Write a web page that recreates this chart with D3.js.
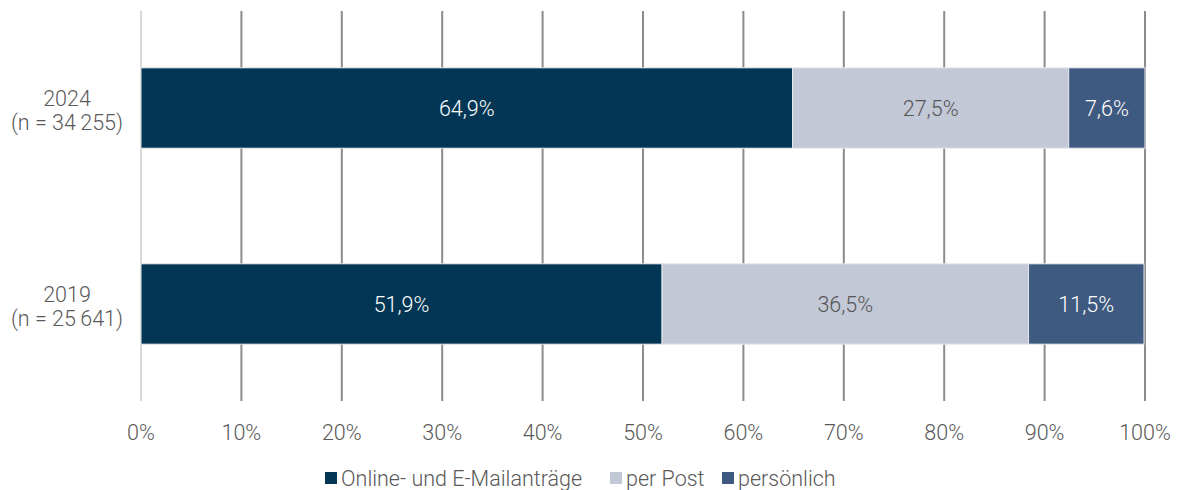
<!DOCTYPE html>
<html>
<head>
<meta charset="utf-8">
<script src="https://cdn.jsdelivr.net/npm/d3@7"></script>
<style>
  body { margin: 0; background: #fff; }
  text { font-family: Roboto, "Liberation Sans", sans-serif; font-weight: 300; }
</style>
</head>
<body>
<div id="chart"></div>
<script>
var years = ["2024", "2019"];
var sampleLabels = ["(n = 34\u2009255)", "(n = 25\u2009641)"];
var seriesNames = ["Online- und E-Mailanträge", "per Post", "persönlich"];
var online = [64.9, 51.9];
var post = [27.5, 36.5];
var personal = [7.6, 11.5];
var ticks = [0, 10, 20, 30, 40, 50, 60, 70, 80, 90, 100];
var colors = ["#023654", "#c3c8d6", "#3f5a80"];
var labelColors = ["#ffffff", "#555555", "#ffffff"];

var width = 1181, height = 490;
var fs = 21.5;

var svg = d3.select("#chart").append("svg")
    .attr("width", width)
    .attr("height", height);

var x = d3.scaleLinear().domain([0, 100]).range([141, 1145]);
var y = d3.scaleBand().domain(years).range([11, 401]).paddingInner(0.59).paddingOuter(0.29);

// gridlines
svg.append("g").selectAll("line")
    .data(ticks)
    .enter().append("line")
    .attr("x1", function(d) { return x(d); })
    .attr("x2", function(d) { return x(d); })
    .attr("y1", 11)
    .attr("y2", 401)
    .attr("stroke", function(d) { return d == 0 ? "#d9d9d9" : "#8c8c8c"; })
    .attr("stroke-width", 2);

// tick labels
svg.append("g").selectAll("text")
    .data(ticks)
    .enter().append("text")
    .attr("x", function(d) { return x(d); })
    .attr("y", 440)
    .attr("text-anchor", "middle")
    .attr("font-size", fs)
    .attr("fill", "#595959")
    .text(function(d) { return d + "%"; });

// stacked data
var rows = years.map(function(yr, i) {
    return { year: yr, values: [online[i], post[i], personal[i]] };
});

rows.forEach(function(r, i) {
    var start = 0;
    var g = svg.append("g");
    r.values.forEach(function(v, k) {
        g.append("rect")
            .attr("x", x(start))
            .attr("y", y(r.year))
            .attr("width", x(start + v) - x(start))
            .attr("height", y.bandwidth())
            .attr("fill", colors[k])
            .attr("stroke", "#e6e9ef")
            .attr("stroke-width", 1);
        g.append("text")
            .attr("x", x(start + v / 2))
            .attr("y", y(r.year) + y.bandwidth() / 2 + 8)
            .attr("text-anchor", "middle")
            .attr("font-size", fs)
            .attr("fill", labelColors[k])
            .text(v.toFixed(1).replace(".", ",") + "%");
        start += v;
    });

    var lab = svg.append("text")
        .attr("text-anchor", "middle")
        .attr("font-size", fs)
        .attr("fill", "#595959");
    lab.append("tspan")
        .attr("x", 67)
        .attr("y", y(r.year) + y.bandwidth() / 2 - 2)
        .text(r.year);
    lab.append("tspan")
        .attr("x", 67)
        .attr("y", y(r.year) + y.bandwidth() / 2 + 22)
        .text(sampleLabels[i]);
});

// legend
var legendX = [325, 610, 722];
var legend = svg.append("g");
seriesNames.forEach(function(name, k) {
    legend.append("rect")
        .attr("x", legendX[k])
        .attr("y", 472)
        .attr("width", 12)
        .attr("height", 12)
        .attr("fill", colors[k]);
    legend.append("text")
        .attr("x", legendX[k] + 16)
        .attr("y", 486)
        .attr("font-size", fs)
        .attr("fill", "#595959")
        .text(name);
});
</script>
</body>
</html>
